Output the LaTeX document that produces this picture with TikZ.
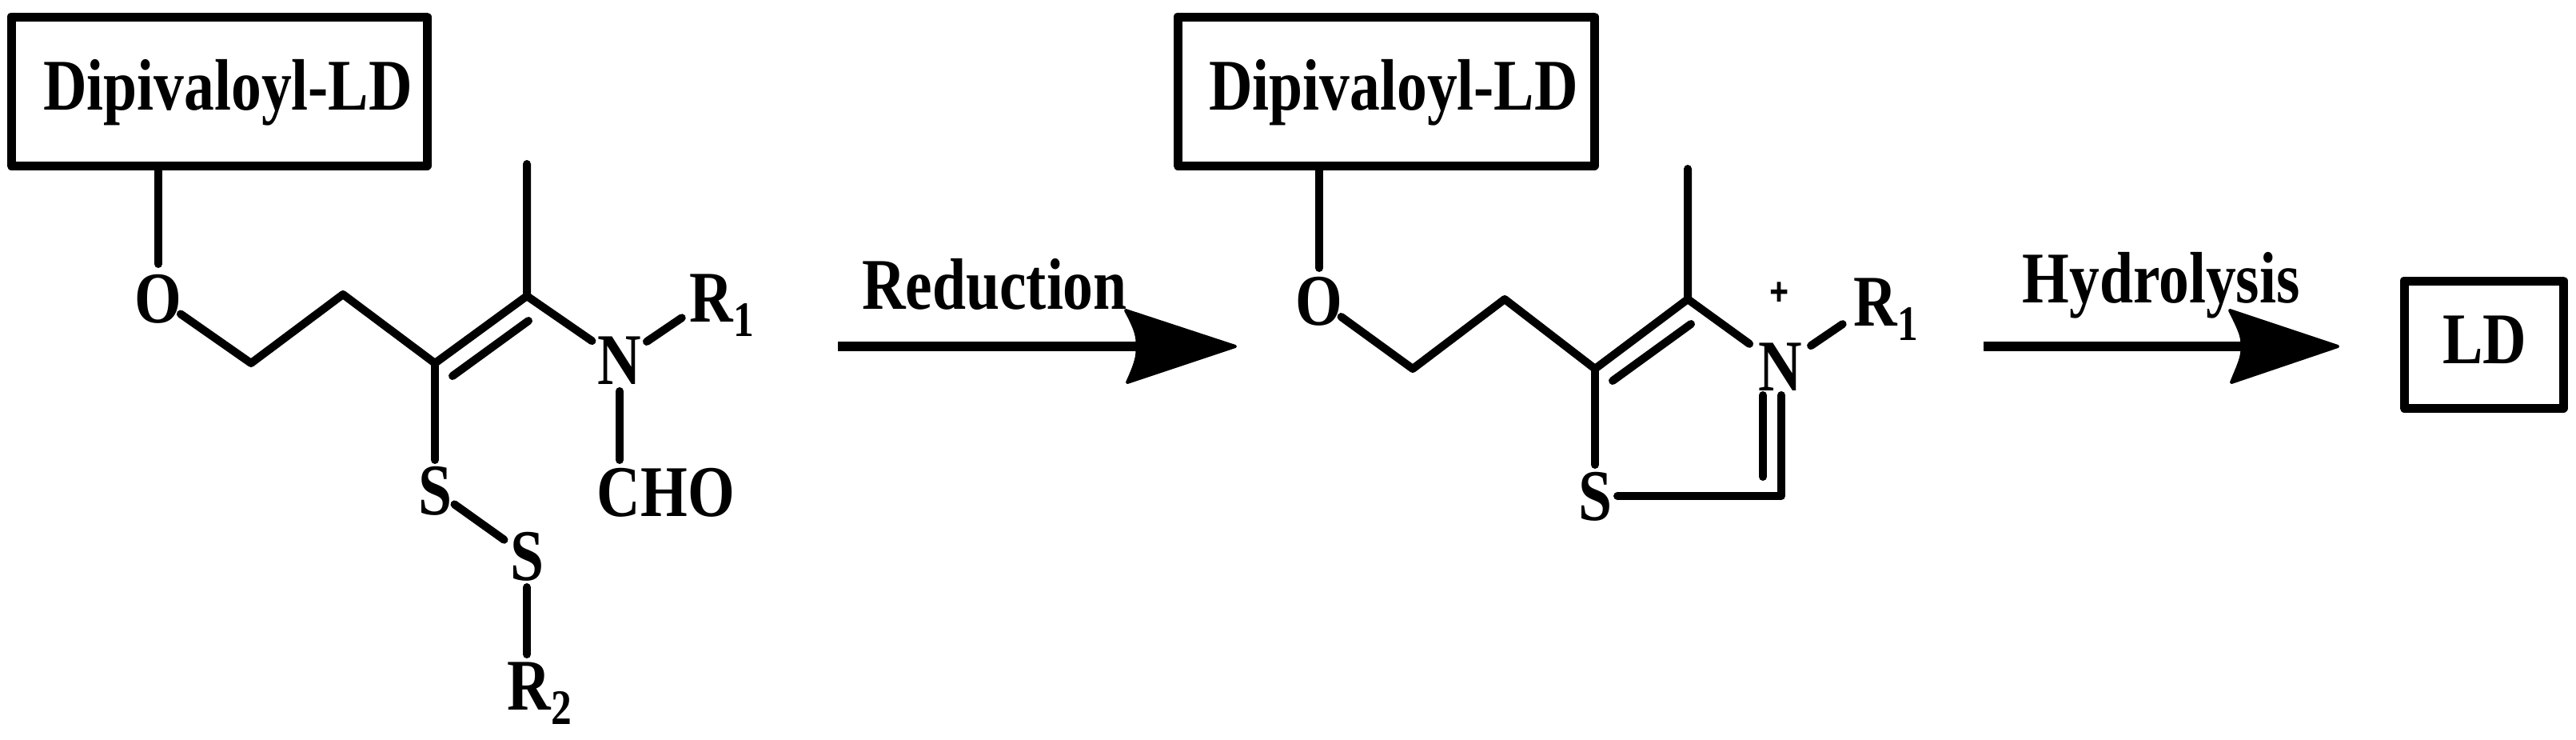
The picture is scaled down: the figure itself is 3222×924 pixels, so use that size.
\documentclass[tikz,border=0pt]{standalone}
\usepackage{fontspec}
\setmainfont[FakeStretch=0.83,BoldFont={Liberation Serif Bold},BoldFeatures={FakeStretch=0.83},Ligatures=TeX]{Liberation Serif}
\newcommand{\subA}[1]{\rlap{\raisebox{-18pt}{\fontsize{62}{62}\selectfont #1}}}
\tikzset{
  x=1pt,y=-1pt,
  bond/.style={line width=10pt,line cap=round,line join=round,black},
  rxn/.style={line width=12pt,line cap=butt,black},
  headfill/.style={fill=black,draw=black,line width=4pt,line join=round},
  frame/.style={draw=black,line width=11pt,line join=round,rectangle,inner sep=0pt,outer sep=0pt,fill=white},
  lab/.style={inner sep=0pt,outer sep=0pt,anchor=base,font=\fontsize{91}{91}\selectfont\bfseries,text=black},
  atom/.style={lab,text height=60pt,text depth=0pt},
}
\begin{document}
\begin{tikzpicture}
\useasboundingbox (0,0) rectangle (3222,924);
\fill[white] (0,0) rectangle (3222,924);
% boxes
\node[frame,minimum width=520pt,minimum height=186pt] (box1) at (274,114) {};
\node[frame,minimum width=521pt,minimum height=186pt] (box2) at (1733.5,114) {};
\node[frame,minimum width=199pt,minimum height=159pt] (box3) at (3106.5,430.5) {};
\node[lab] (t1) at (285,137) {Dipivaloyl-LD};
\node[lab] (t2) at (1743,137) {Dipivaloyl-LD};
\node[lab] (t3) at (3108,454) {LD};
% left molecule
\node[atom] (O1) at (198,403) {O};
\coordinate (a1) at (314,454);
\coordinate (a2) at (429,368);
\coordinate (a3) at (544,454);
\coordinate (a4) at (659,370);
\coordinate (m1) at (659,205);
\coordinate (d1a) at (566,470);
\coordinate (d1b) at (661,401);
\node[atom] (N1) at (775,480) {N};
\node[atom] (R1) at (890,402) {R\subA{1}};
\node[atom] (CHO) at (833,645) {CHO};
\node[atom] (S1) at (544,643) {S};
\node[atom] (S2) at (659,725) {S};
\node[atom] (R2) at (662,887) {R\subA{2}};
\draw[bond,shorten >=43pt] (O1.center |- box1.south) -- (O1.center);
\draw[bond,shorten <=34pt] (O1.center) -- (a1) -- (a2) -- (a3) -- (a4) -- (m1);
\draw[bond] (d1a) -- (d1b);
\draw[bond,shorten >=42pt] (a4) -- (N1.center);
\draw[bond,shorten <=41pt,shorten >=45pt] (N1.center) -- (R1.center);
\draw[bond,shorten <=39pt,shorten >=10pt] (N1.center) -- (N1.center |- CHO.north);
\draw[bond,shorten >=38pt] (a3) -- (S1.center);
\draw[bond,shorten <=30pt,shorten >=35pt] (S1.center) -- (S2.center);
\draw[bond,shorten <=39pt,shorten >=9pt] (S2.center) -- (S2.center |- R2.north);
% first arrow
\coordinate (A1s) at (1048,433);
\coordinate (A1e) at (1545,433);
\coordinate (A1n) at (1422,433);
\draw[rxn] (A1s) -- (A1n);
\path[headfill] (A1e) -- (1408,388) .. controls (1420,410) and (1424,422) .. (A1n) .. controls (1424,444) and (1420,456) .. (1410,478) -- cycle;
\node[lab] (L1) at (1244,386) {Reduction};
% right molecule
\node[atom] (O2) at (1650,406) {O};
\coordinate (b1) at (1767,461);
\coordinate (b2) at (1882,374);
\coordinate (b3) at (1995,461);
\coordinate (b4) at (2111,374);
\coordinate (m2) at (2111,211);
\coordinate (d2a) at (2017,476);
\coordinate (d2b) at (2115,405);
\node[atom] (N2) at (2227,488) {N};
\node[atom] (R3) at (2346,407) {R\subA{1}};
\node[atom] (S3) at (1995,650) {S};
\coordinate (c1) at (2228,620);
\coordinate (c1t) at (2228,494);
\coordinate (c2a) at (2205,494);
\coordinate (c2b) at (2205,596);
\node[font=\fontsize{48}{48}\selectfont\bfseries\addfontfeature{FakeBold=4},inner sep=0pt] (plus) at (2225,367) {+};
\draw[bond,shorten >=41pt] (O2.center |- box2.south) -- (O2.center);
\draw[bond,shorten <=34pt] (O2.center) -- (b1) -- (b2) -- (b3) -- (b4) -- (m2);
\draw[bond] (d2a) -- (d2b);
\draw[bond,shorten >=48pt] (b4) -- (N2.center);
\draw[bond,shorten <=46pt,shorten >=50pt] (N2.center) -- (R3.center);
\draw[bond,shorten >=39pt] (b3) -- (S3.center);
\draw[bond,shorten <=28pt] (S3.center |- c1) -- (c1) -- (c1t);
\draw[bond] (c2a) -- (c2b);
% second arrow
\coordinate (A2s) at (2481,433);
\coordinate (A2e) at (2924,433);
\coordinate (A2n) at (2804,433);
\draw[rxn] (A2s) -- (A2n);
\path[headfill] (A2e) -- (2789,388) .. controls (2800,410) and (2806,422) .. (A2n) .. controls (2806,444) and (2800,456) .. (2791,478) -- cycle;
\node[lab] (L2) at (2703,378) {Hydrolysis};
\end{tikzpicture}
\end{document}
